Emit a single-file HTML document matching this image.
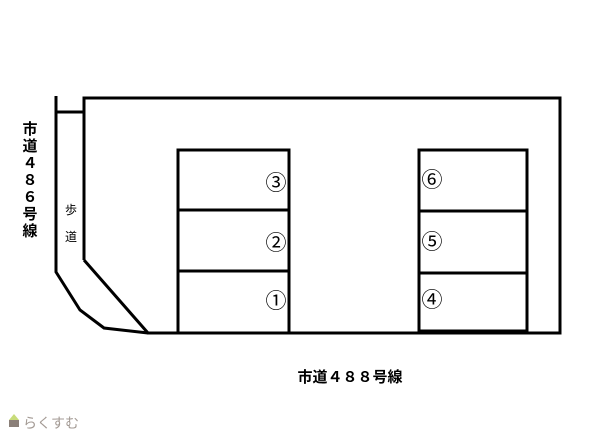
<!DOCTYPE html>
<html><head><meta charset="utf-8"><style>
body{margin:0;background:#fff;width:613px;height:432px;overflow:hidden}
</style></head><body>
<svg width="613" height="432" xmlns="http://www.w3.org/2000/svg" style="display:block">
<g fill="none" stroke="#000" stroke-width="3">
<polyline points="56,96 56,272 80,310 104,328 148,333"/>
<line x1="56" y1="112" x2="84" y2="112"/>
<polyline points="84,260 84,98 560,98 560,333 148,333 84,260"/>
<rect x="178" y="150" width="111" height="183"/>
<line x1="178" y1="210" x2="289" y2="210"/>
<line x1="178" y1="271" x2="289" y2="271"/>
<rect x="419" y="150" width="108" height="181"/>
<line x1="419" y1="211" x2="527" y2="211"/>
<line x1="419" y1="273" x2="527" y2="273"/>
</g>
<g font-family="Liberation Sans, Noto Sans CJK JP, sans-serif" font-size="21" fill="#000" text-anchor="middle">
<text x="276" y="190">③</text>
<text x="276" y="250">②</text>
<text x="276" y="308">①</text>
<text x="432" y="187">⑥</text>
<text x="432" y="249">⑤</text>
<text x="432" y="307">④</text>
</g>
<g font-family="Liberation Sans, Noto Sans CJK JP, sans-serif" font-size="15" font-weight="bold" fill="#000" text-anchor="middle">
<text x="30" y="134">市</text>
<text x="30" y="151">道</text>
<text x="30" y="168">４</text>
<text x="30" y="185">８</text>
<text x="30" y="202">６</text>
<text x="30" y="219">号</text>
<text x="30" y="236">線</text>
<text x="350" y="382">市道４８８号線</text>
</g>
<g font-family="Liberation Sans, Noto Sans CJK JP, sans-serif" font-size="12" fill="#000" text-anchor="middle">
<text x="71" y="214">歩</text>
<text x="71" y="241">道</text>
</g>
<polygon points="9,420 14,414 19,420" fill="#c8dc7a"/>
<rect x="9" y="420" width="10" height="7" fill="#8a7f78"/>
<text x="23" y="428" font-family="Noto Sans CJK JP, sans-serif" font-size="14" fill="#a39a94">らくすむ</text>
</svg>
</body></html>
